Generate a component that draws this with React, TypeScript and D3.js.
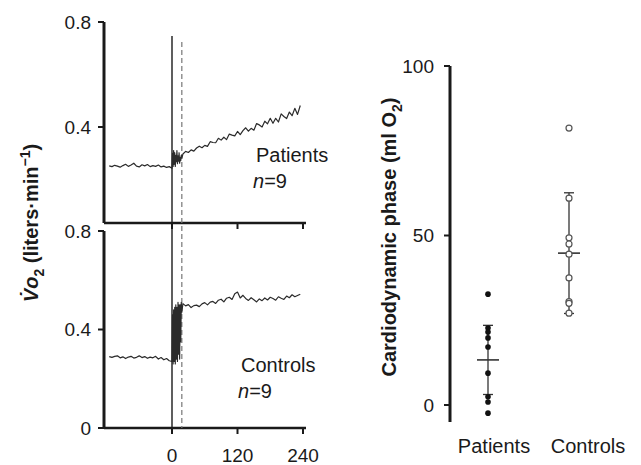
import React from 'react';
import * as d3 from 'd3';

// ---------- data ----------
const timeTicks = [0, 120, 240];
const topTicks = [0.4, 0.8];
const bottomTicks = [0, 0.4, 0.8];
const baseTimes = d3.range(-115, 1, 5); // 24 samples
const onTimes = d3.range(0, 19, 1); // 19 samples
const postTimes = d3.range(20, 236, 5); // 44 samples
const dashedTime = 18;

const patientsBase = [0.252, 0.249, 0.254, 0.251, 0.247, 0.253, 0.258, 0.250, 0.255, 0.262, 0.251, 0.248, 0.256, 0.252, 0.257, 0.249, 0.253, 0.250, 0.255, 0.248, 0.251, 0.246, 0.249, 0.243];
const patientsOn = [0.245, 0.300, 0.250, 0.310, 0.258, 0.302, 0.250, 0.292, 0.268, 0.310, 0.260, 0.290, 0.270, 0.302, 0.262, 0.284, 0.272, 0.292, 0.282];
const patientsPost = [0.297, 0.307, 0.303, 0.313, 0.308, 0.320, 0.327, 0.321, 0.330, 0.326, 0.344, 0.341, 0.340, 0.357, 0.350, 0.361, 0.352, 0.373, 0.369, 0.366, 0.383, 0.371, 0.386, 0.397, 0.384, 0.395, 0.388, 0.413, 0.408, 0.400, 0.422, 0.412, 0.433, 0.414, 0.433, 0.419, 0.450, 0.440, 0.432, 0.457, 0.443, 0.471, 0.448, 0.482];

const controlsBase = [0.290, 0.287, 0.291, 0.293, 0.285, 0.289, 0.282, 0.288, 0.291, 0.284, 0.287, 0.293, 0.286, 0.290, 0.283, 0.288, 0.285, 0.291, 0.280, 0.286, 0.277, 0.282, 0.273, 0.270];
const controlsOn = [0.27, 0.46, 0.26, 0.48, 0.27, 0.49, 0.26, 0.50, 0.28, 0.49, 0.27, 0.51, 0.30, 0.50, 0.28, 0.50, 0.35, 0.51, 0.47];
const controlsPost = [0.505, 0.496, 0.501, 0.489, 0.497, 0.499, 0.493, 0.504, 0.509, 0.500, 0.511, 0.514, 0.506, 0.519, 0.523, 0.512, 0.527, 0.531, 0.522, 0.545, 0.552, 0.528, 0.539, 0.526, 0.518, 0.529, 0.521, 0.512, 0.524, 0.517, 0.528, 0.520, 0.531, 0.526, 0.519, 0.533, 0.527, 0.522, 0.536, 0.529, 0.541, 0.533, 0.538, 0.543];

const groups = ['Patients', 'Controls'];
const patientsPhase = [32.7, 22.7, 21.5, 19.8, 17.1, 9.4, 2.4, 0.9, -2.4];
const controlsPhase = [81.7, 61, 49.3, 47.5, 44.5, 37.5, 30.5, 30, 27.1];
const groupMeans = [13.3, 44.8];
const groupSd = [10.2, 17.8];
const phaseTicks = [0, 50, 100];

// ---------- layout ----------
const W = 641, H = 465;
const FONT = '"Liberation Sans", Arial, sans-serif';
const INK = '#1a1a1a';
const TRACE = '#2b2b2b';

const x = d3.scaleLinear().domain([0, 240]).range([172, 303]);
const xLeft = 104;
const yTop = d3.scaleLinear().domain([0, 0.8]).range([232, 22]);
const topAxisY = 223;
const yBot = d3.scaleLinear().domain([0, 0.8]).range([428, 231]);

const yR = d3.scaleLinear().domain([0, 100]).range([405, 66]);
const xR = d3.scalePoint<string>().domain(groups).range([488, 569]);
const xRLabel = d3.scalePoint<string>().domain(groups).range([494, 588]);
const rAxisX = 450;

function series(base: number[], on: number[], post: number[]) {
  const pts: [number, number][] = [];
  baseTimes.forEach((t, i) => pts.push([t, base[i]]));
  onTimes.forEach((t, i) => pts.push([t, on[i]]));
  postTimes.forEach((t, i) => pts.push([t, post[i]]));
  return pts;
}

export default function App() {
  const lineTop = d3.line<[number, number]>().x(d => x(d[0])).y(d => yTop(d[1]));
  const lineBot = d3.line<[number, number]>().x(d => x(d[0])).y(d => yBot(d[1]));
  const pSeries = series(patientsBase, patientsOn, patientsPost);
  const cSeries = series(controlsBase, controlsOn, controlsPost);
  const xEnd = x(240) + 3;

  return (
    <svg width={W} height={H} style={{ position: 'absolute', left: 0, top: 0, background: '#fff' }} fontFamily={FONT}>
      {/* ---- left: top panel ---- */}
      <line x1={xLeft} x2={xLeft} y1={yTop(0.8)} y2={topAxisY} stroke={INK} strokeWidth={3} />
      {topTicks.map(v => (
        <g key={'tt' + v}>
          <line x1={xLeft - 6} x2={xLeft} y1={yTop(v)} y2={yTop(v)} stroke={INK} strokeWidth={2} />
          <text x={xLeft - 13} y={yTop(v)} dy="0.36em" textAnchor="end" fontSize={19} fill={INK}>{v.toFixed(1)}</text>
        </g>
      ))}
      <line x1={xLeft} x2={xEnd} y1={topAxisY} y2={topAxisY} stroke={INK} strokeWidth={2.5} />
      {timeTicks.map(t => (
        <line key={'ttx' + t} x1={x(t)} x2={x(t)} y1={topAxisY} y2={topAxisY + 6} stroke={INK} strokeWidth={2} />
      ))}

      {/* ---- left: bottom panel ---- */}
      <line x1={xLeft} x2={xLeft} y1={yBot(0.8)} y2={yBot(0)} stroke={INK} strokeWidth={3} />
      {bottomTicks.map(v => (
        <g key={'bt' + v}>
          <line x1={xLeft - 6} x2={xLeft} y1={yBot(v)} y2={yBot(v)} stroke={INK} strokeWidth={2} />
          <text x={xLeft - 13} y={yBot(v)} dy="0.36em" textAnchor="end" fontSize={19} fill={INK}>{v === 0 ? '0' : v.toFixed(1)}</text>
        </g>
      ))}
      <line x1={xLeft} x2={xEnd} y1={yBot(0)} y2={yBot(0)} stroke={INK} strokeWidth={2.5} />
      {timeTicks.map(t => (
        <g key={'btx' + t}>
          <line x1={x(t)} x2={x(t)} y1={yBot(0)} y2={yBot(0) + 6} stroke={INK} strokeWidth={2} />
          <text x={x(t)} y={462} textAnchor="middle" fontSize={19} fill={INK}>{t}</text>
        </g>
      ))}

      {/* reference lines */}
      <line x1={x(0)} x2={x(0)} y1={36} y2={yBot(0)} stroke={INK} strokeWidth={1.4} />
      <line x1={x(dashedTime)} x2={x(dashedTime)} y1={42} y2={yBot(0)} stroke="#777" strokeWidth={1.2} strokeDasharray="5,3" />

      {/* traces */}
      <path d={lineTop(pSeries) || ''} fill="none" stroke={TRACE} strokeWidth={1.2} strokeLinejoin="round" />
      <path d={lineBot(cSeries) || ''} fill="none" stroke={TRACE} strokeWidth={1.2} strokeLinejoin="round" />

      {/* annotations */}
      <text x={256} y={162} fontSize={20} fill={INK}>Patients</text>
      <text x={253} y={188} fontSize={20} fill={INK}><tspan fontStyle="italic">n</tspan>=9</text>
      <text x={241} y={372} fontSize={20} fill={INK}>Controls</text>
      <text x={238} y={398} fontSize={20} fill={INK}><tspan fontStyle="italic">n</tspan>=9</text>

      {/* left y-axis title */}
      <text transform="translate(38,223) rotate(-90)" textAnchor="middle" fontSize={20} fontWeight="bold" fill={INK}>
        <tspan fontStyle="italic">{'V\u0307o'}</tspan>
        <tspan fontSize={14} dy={6}>2</tspan>
        <tspan dy={-6}>{' (liters\u00b7min'}</tspan>
        <tspan fontSize={14} dy={-8}>{'\u22121'}</tspan>
        <tspan dy={8}>)</tspan>
      </text>

      {/* ---- right panel ---- */}
      <line x1={rAxisX} x2={rAxisX} y1={yR(100)} y2={yR(-5)} stroke={INK} strokeWidth={3} />
      {phaseTicks.map(v => (
        <g key={'rt' + v}>
          <line x1={rAxisX - 6} x2={rAxisX} y1={yR(v)} y2={yR(v)} stroke={INK} strokeWidth={2} />
          <text x={rAxisX - 16} y={yR(v)} dy="0.36em" textAnchor="end" fontSize={19} fill={INK}>{v}</text>
        </g>
      ))}
      {groups.map(g => (
        <text key={'gl' + g} x={xRLabel(g)} y={453} textAnchor="middle" fontSize={20} fill={INK}>{g}</text>
      ))}
      <text transform="translate(396,237) rotate(-90)" textAnchor="middle" fontSize={20} fontWeight="bold" fill={INK}>
        <tspan>Cardiodynamic phase (ml O</tspan>
        <tspan fontSize={14} dy={6}>2</tspan>
        <tspan dy={-6}>)</tspan>
      </text>

      {/* error bars & means */}
      {groups.map((g, i) => {
        const cx = xR(g) as number;
        const lo = yR(groupMeans[i] - groupSd[i]);
        const hi = yR(groupMeans[i] + groupSd[i]);
        const m = yR(groupMeans[i]);
        return (
          <g key={'eb' + g} stroke="#333" strokeWidth={1.3}>
            <line x1={cx} x2={cx} y1={hi} y2={lo} />
            <line x1={cx - 5} x2={cx + 5} y1={hi} y2={hi} />
            <line x1={cx - 5} x2={cx + 5} y1={lo} y2={lo} />
            <line x1={cx - 11} x2={cx + 11} y1={m} y2={m} strokeWidth={1.6} />
          </g>
        );
      })}

      {/* points */}
      {patientsPhase.map((v, i) => (
        <circle key={'pp' + i} cx={xR('Patients')} cy={yR(v)} r={2.8} fill="#111" />
      ))}
      {controlsPhase.map((v, i) => (
        <circle key={'cp' + i} cx={xR('Controls')} cy={yR(v)} r={3} fill="#fff" stroke="#555" strokeWidth={1.2} />
      ))}
    </svg>
  );
}
